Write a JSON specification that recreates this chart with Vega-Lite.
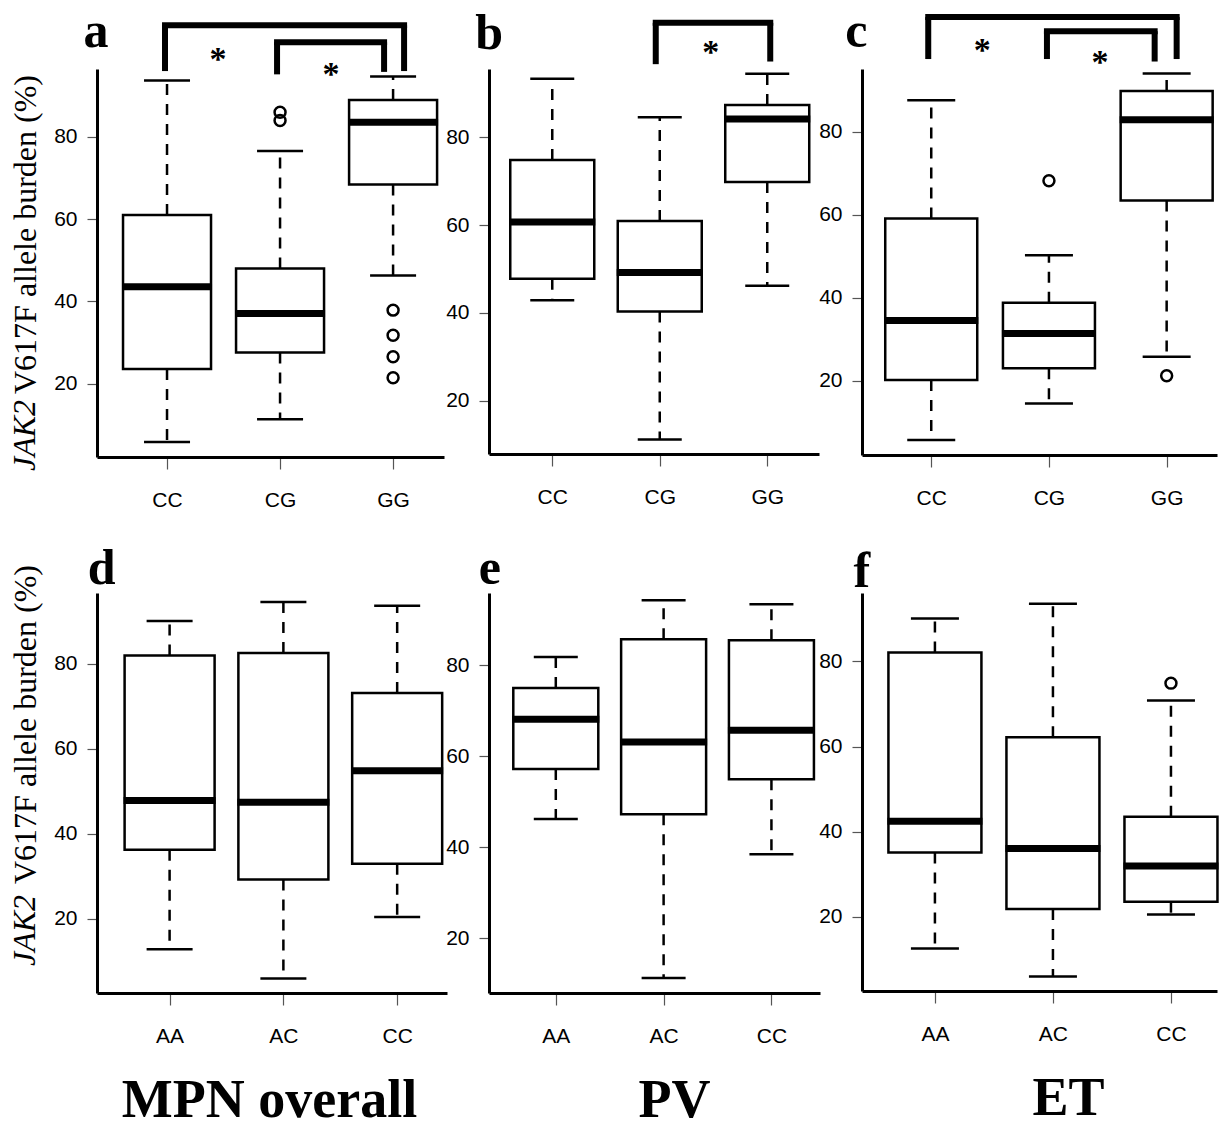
{
"$schema": "https://vega.github.io/schema/vega-lite/v6.json",
"background": "white",
"autosize": {"type": "pad"},
"padding": {"left": 8, "top": 6, "right": 0, "bottom": 0},
"datasets": {
"boxes": [
{"panel":"a","group":"CC","lo":5.9,"q1":23.6,"med":43.6,"q3":61.0,"hi":93.6},
{"panel":"a","group":"CG","lo":11.4,"q1":27.6,"med":37.1,"q3":48.0,"hi":76.5},
{"panel":"a","group":"GG","lo":46.3,"q1":68.4,"med":83.5,"q3":88.9,"hi":94.6},
{"panel":"b","group":"CC","lo":42.9,"q1":47.8,"med":60.7,"q3":74.8,"hi":93.3},
{"panel":"b","group":"CG","lo":11.2,"q1":40.3,"med":49.2,"q3":60.9,"hi":84.5},
{"panel":"b","group":"GG","lo":46.2,"q1":69.8,"med":84.1,"q3":87.3,"hi":94.4},
{"panel":"c","group":"CC","lo":5.7,"q1":20.2,"med":34.5,"q3":59.1,"hi":87.6},
{"panel":"c","group":"CG","lo":14.5,"q1":23.0,"med":31.4,"q3":38.8,"hi":50.2},
{"panel":"c","group":"GG","lo":25.8,"q1":63.4,"med":82.9,"q3":89.8,"hi":94.0},
{"panel":"d","group":"AA","lo":12.8,"q1":36.2,"med":47.8,"q3":81.9,"hi":90.0},
{"panel":"d","group":"AC","lo":5.9,"q1":29.2,"med":47.4,"q3":82.5,"hi":94.5},
{"panel":"d","group":"CC","lo":20.4,"q1":32.9,"med":54.8,"q3":73.1,"hi":93.6},
{"panel":"e","group":"AA","lo":46.2,"q1":57.2,"med":68.1,"q3":75.0,"hi":81.8},
{"panel":"e","group":"AC","lo":11.2,"q1":47.2,"med":63.1,"q3":85.7,"hi":94.3},
{"panel":"e","group":"CC","lo":38.4,"q1":54.9,"med":65.7,"q3":85.5,"hi":93.4},
{"panel":"f","group":"AA","lo":12.5,"q1":35.1,"med":42.4,"q3":82.1,"hi":90.1},
{"panel":"f","group":"AC","lo":5.9,"q1":21.8,"med":36.0,"q3":62.2,"hi":93.6},
{"panel":"f","group":"CC","lo":20.5,"q1":23.5,"med":31.9,"q3":43.5,"hi":70.8}
],
"outliers": [
{"panel":"a","group":"CG","value":85.9},
{"panel":"a","group":"CG","value":83.9},
{"panel":"a","group":"GG","value":37.9},
{"panel":"a","group":"GG","value":31.8},
{"panel":"a","group":"GG","value":26.6},
{"panel":"a","group":"GG","value":21.5},
{"panel":"c","group":"CG","value":68.2},
{"panel":"c","group":"GG","value":21.2},
{"panel":"f","group":"CC","value":74.9}
],
"brackets": [
{"panel":"a","id":"a1","from":"CC","to":"GG","top":107.0,"leg1":95.9,"leg2":95.9},
{"panel":"a","id":"a2","from":"CG","to":"GG","top":102.9,"leg1":95.1,"leg2":95.7},
{"panel":"b","id":"b1","from":"CG","to":"GG","top":106.0,"leg1":96.6,"leg2":97.2},
{"panel":"c","id":"c1","from":"CC","to":"GG","top":107.6,"leg1":97.5,"leg2":97.5},
{"panel":"c","id":"c2","from":"CG","to":"GG","top":104.2,"leg1":97.5,"leg2":96.9}
],
"stars": [
{"panel":"a","near":"CC","label":"*","level":100.0},
{"panel":"a","near":"CG","label":"*","level":96.5},
{"panel":"b","near":"CG","label":"*","level":100.4},
{"panel":"c","near":"CC","label":"*","level":100.9},
{"panel":"c","near":"CG","label":"*","level":98.1}
],
"letters": [
{"panel":"a","near":"CC","label":"a","level":101.8},
{"panel":"b","near":"CC","label":"b","level":100.0},
{"panel":"c","near":"CC","label":"c","level":100.3},
{"panel":"d","near":"AA","label":"d","level":98.6},
{"panel":"e","near":"AA","label":"e","level":97.9},
{"panel":"f","near":"AA","label":"f","level":97.6}
],
"gene": [
{"panel":"a","near":"CC","label":"JAK2","level":7.5},
{"panel":"d","near":"AA","label":"JAK2","level":17.2}
]
},
"columns": 3,
"spacing": {"row": 136, "column": 42},
"bounds": "flush",
"align": "each",
"concat": [
{"width": 347, "height": 388,
"layer": [
{"data":{"name":"boxes"},"transform":[{"filter":"datum.panel === 'a'"}],"mark":{"type":"rule","strokeDash":[11,9],"strokeWidth":2.5,"color":"black"},
"encoding":{"x":{"field":"group","type":"nominal","scale":{"type":"point","domain":["CC","CG","GG"],"padding":0.535,"align":0.579},"axis":{"title":null}},
"y":{"field":"q3","type":"quantitative","scale":{"domain":[2.27,96.4],"nice":false,"zero":false},"axis":{"values":[20,40,60,80],"title":"V617F allele burden (%)","titleFont":"Liberation Serif","titleX":-62,"titleY":165,"titleAngle":270,"titleAlign":"center","titleBaseline":"alphabetic","titleFontSize":32,"titleFontWeight":"normal"}},"y2":{"field":"hi"}}},
{"data":{"name":"boxes"},"transform":[{"filter":"datum.panel === 'a'"}],"mark":{"type":"rule","strokeDash":[11,9],"strokeWidth":2.5,"color":"black"},
"encoding":{"x":{"field":"group","type":"nominal","scale":{"type":"point","domain":["CC","CG","GG"],"padding":0.535,"align":0.579}},
"y":{"field":"q1","type":"quantitative","scale":{"domain":[2.27,96.4],"nice":false,"zero":false}},"y2":{"field":"lo"}}},
{"data":{"name":"boxes"},"transform":[{"filter":"datum.panel === 'a'"}],"mark":{"type":"bar","width":88,"fill":"white","stroke":"black","strokeWidth":2.5},
"encoding":{"x":{"field":"group","type":"nominal","scale":{"type":"point","domain":["CC","CG","GG"],"padding":0.535,"align":0.579}},
"y":{"field":"q1","type":"quantitative","scale":{"domain":[2.27,96.4],"nice":false,"zero":false}},"y2":{"field":"q3"}}},
{"data":{"name":"boxes"},"transform":[{"filter":"datum.panel === 'a'"}],"mark":{"type":"tick","orient":"horizontal","size":90,"thickness":7,"color":"black","opacity":1},
"encoding":{"x":{"field":"group","type":"nominal","scale":{"type":"point","domain":["CC","CG","GG"],"padding":0.535,"align":0.579}},
"y":{"field":"med","type":"quantitative","scale":{"domain":[2.27,96.4],"nice":false,"zero":false}}}},
{"data":{"name":"boxes"},"transform":[{"filter":"datum.panel === 'a'"}],"mark":{"type":"tick","orient":"horizontal","size":46,"thickness":2.5,"color":"black","opacity":1},
"encoding":{"x":{"field":"group","type":"nominal","scale":{"type":"point","domain":["CC","CG","GG"],"padding":0.535,"align":0.579}},
"y":{"field":"hi","type":"quantitative","scale":{"domain":[2.27,96.4],"nice":false,"zero":false}}}},
{"data":{"name":"boxes"},"transform":[{"filter":"datum.panel === 'a'"}],"mark":{"type":"tick","orient":"horizontal","size":46,"thickness":2.5,"color":"black","opacity":1},
"encoding":{"x":{"field":"group","type":"nominal","scale":{"type":"point","domain":["CC","CG","GG"],"padding":0.535,"align":0.579}},
"y":{"field":"lo","type":"quantitative","scale":{"domain":[2.27,96.4],"nice":false,"zero":false}}}},
{"data":{"name":"outliers"},"transform":[{"filter":"datum.panel === 'a'"}],"mark":{"type":"point","shape":"circle","filled":false,"size":120,"strokeWidth":2.5,"color":"black","opacity":1},
"encoding":{"x":{"field":"group","type":"nominal","scale":{"type":"point","domain":["CC","CG","GG"],"padding":0.535,"align":0.579}},
"y":{"field":"value","type":"quantitative","scale":{"domain":[2.27,96.4],"nice":false,"zero":false}}}},
{"data":{"name":"brackets"},"transform":[{"filter":"datum.id === 'a1'"}],"mark":{"type":"rule","strokeWidth":6,"strokeCap":"square","color":"black","xOffset":-2,"x2Offset":11},
"encoding":{"x":{"field":"from","type":"nominal","scale":{"type":"point","domain":["CC","CG","GG"],"padding":0.535,"align":0.579}},"x2":{"field":"to"},
"y":{"field":"top","type":"quantitative","scale":{"domain":[2.27,96.4],"nice":false,"zero":false}}}},
{"data":{"name":"brackets"},"transform":[{"filter":"datum.id === 'a1'"}],"mark":{"type":"rule","strokeWidth":6,"color":"black","xOffset":-2},
"encoding":{"x":{"field":"from","type":"nominal","scale":{"type":"point","domain":["CC","CG","GG"],"padding":0.535,"align":0.579}},
"y":{"field":"top","type":"quantitative","scale":{"domain":[2.27,96.4],"nice":false,"zero":false}},"y2":{"field":"leg1"}}},
{"data":{"name":"brackets"},"transform":[{"filter":"datum.id === 'a1'"}],"mark":{"type":"rule","strokeWidth":6,"color":"black","xOffset":11},
"encoding":{"x":{"field":"to","type":"nominal","scale":{"type":"point","domain":["CC","CG","GG"],"padding":0.535,"align":0.579}},
"y":{"field":"top","type":"quantitative","scale":{"domain":[2.27,96.4],"nice":false,"zero":false}},"y2":{"field":"leg2"}}},
{"data":{"name":"brackets"},"transform":[{"filter":"datum.id === 'a2'"}],"mark":{"type":"rule","strokeWidth":6,"strokeCap":"square","color":"black","xOffset":-3,"x2Offset":-9},
"encoding":{"x":{"field":"from","type":"nominal","scale":{"type":"point","domain":["CC","CG","GG"],"padding":0.535,"align":0.579}},"x2":{"field":"to"},
"y":{"field":"top","type":"quantitative","scale":{"domain":[2.27,96.4],"nice":false,"zero":false}}}},
{"data":{"name":"brackets"},"transform":[{"filter":"datum.id === 'a2'"}],"mark":{"type":"rule","strokeWidth":6,"color":"black","xOffset":-3},
"encoding":{"x":{"field":"from","type":"nominal","scale":{"type":"point","domain":["CC","CG","GG"],"padding":0.535,"align":0.579}},
"y":{"field":"top","type":"quantitative","scale":{"domain":[2.27,96.4],"nice":false,"zero":false}},"y2":{"field":"leg1"}}},
{"data":{"name":"brackets"},"transform":[{"filter":"datum.id === 'a2'"}],"mark":{"type":"rule","strokeWidth":6,"color":"black","xOffset":-9},
"encoding":{"x":{"field":"to","type":"nominal","scale":{"type":"point","domain":["CC","CG","GG"],"padding":0.535,"align":0.579}},
"y":{"field":"top","type":"quantitative","scale":{"domain":[2.27,96.4],"nice":false,"zero":false}},"y2":{"field":"leg2"}}},
{"data":{"name":"stars"},"transform":[{"filter":"datum.panel === 'a'"}],"mark":{"type":"text","font":"Liberation Serif","fontWeight":"bold","fontSize":34,"dx":51,"dy":6,"baseline":"middle","align":"center","color":"black"},
"encoding":{"x":{"field":"near","type":"nominal","scale":{"type":"point","domain":["CC","CG","GG"],"padding":0.535,"align":0.579}},
"y":{"field":"level","type":"quantitative","scale":{"domain":[2.27,96.4],"nice":false,"zero":false}},"text":{"field":"label"}}},
{"data":{"name":"letters"},"transform":[{"filter":"datum.panel === 'a'"}],"mark":{"type":"text","font":"Liberation Serif","fontWeight":"bold","fontSize":50,"dx":-71,"baseline":"alphabetic","align":"center","color":"black"},
"encoding":{"x":{"field":"near","type":"nominal","scale":{"type":"point","domain":["CC","CG","GG"],"padding":0.535,"align":0.579}},
"y":{"field":"level","type":"quantitative","scale":{"domain":[2.27,96.4],"nice":false,"zero":false}},"text":{"field":"label"}}},
{"data":{"name":"gene"},"transform":[{"filter":"datum.panel === 'a'"}],"mark":{"type":"text","font":"Liberation Serif","fontStyle":"italic","fontSize":32,"angle":270,"dy":-132,"baseline":"alphabetic","align":"center","color":"black"},
"encoding":{"x":{"field":"near","type":"nominal","scale":{"type":"point","domain":["CC","CG","GG"],"padding":0.535,"align":0.579}},
"y":{"field":"level","type":"quantitative","scale":{"domain":[2.27,96.4],"nice":false,"zero":false}},"text":{"field":"label"}}}
]},
{"width": 330, "height": 385,
"layer": [
{"data":{"name":"boxes"},"transform":[{"filter":"datum.panel === 'b'"}],"mark":{"type":"rule","strokeDash":[11,9],"strokeWidth":2.5,"color":"black"},
"encoding":{"x":{"field":"group","type":"nominal","scale":{"type":"point","domain":["CC","CG","GG"],"padding":0.535,"align":0.55},"axis":{"title":null}},
"y":{"field":"q3","type":"quantitative","scale":{"domain":[7.9,95.5],"nice":false,"zero":false},"axis":{"values":[20,40,60,80],"title":null}},"y2":{"field":"hi"}}},
{"data":{"name":"boxes"},"transform":[{"filter":"datum.panel === 'b'"}],"mark":{"type":"rule","strokeDash":[11,9],"strokeWidth":2.5,"color":"black"},
"encoding":{"x":{"field":"group","type":"nominal","scale":{"type":"point","domain":["CC","CG","GG"],"padding":0.535,"align":0.55}},
"y":{"field":"q1","type":"quantitative","scale":{"domain":[7.9,95.5],"nice":false,"zero":false}},"y2":{"field":"lo"}}},
{"data":{"name":"boxes"},"transform":[{"filter":"datum.panel === 'b'"}],"mark":{"type":"bar","width":84,"fill":"white","stroke":"black","strokeWidth":2.5},
"encoding":{"x":{"field":"group","type":"nominal","scale":{"type":"point","domain":["CC","CG","GG"],"padding":0.535,"align":0.55}},
"y":{"field":"q1","type":"quantitative","scale":{"domain":[7.9,95.5],"nice":false,"zero":false}},"y2":{"field":"q3"}}},
{"data":{"name":"boxes"},"transform":[{"filter":"datum.panel === 'b'"}],"mark":{"type":"tick","orient":"horizontal","size":86,"thickness":7,"color":"black","opacity":1},
"encoding":{"x":{"field":"group","type":"nominal","scale":{"type":"point","domain":["CC","CG","GG"],"padding":0.535,"align":0.55}},
"y":{"field":"med","type":"quantitative","scale":{"domain":[7.9,95.5],"nice":false,"zero":false}}}},
{"data":{"name":"boxes"},"transform":[{"filter":"datum.panel === 'b'"}],"mark":{"type":"tick","orient":"horizontal","size":44,"thickness":2.5,"color":"black","opacity":1},
"encoding":{"x":{"field":"group","type":"nominal","scale":{"type":"point","domain":["CC","CG","GG"],"padding":0.535,"align":0.55}},
"y":{"field":"hi","type":"quantitative","scale":{"domain":[7.9,95.5],"nice":false,"zero":false}}}},
{"data":{"name":"boxes"},"transform":[{"filter":"datum.panel === 'b'"}],"mark":{"type":"tick","orient":"horizontal","size":44,"thickness":2.5,"color":"black","opacity":1},
"encoding":{"x":{"field":"group","type":"nominal","scale":{"type":"point","domain":["CC","CG","GG"],"padding":0.535,"align":0.55}},
"y":{"field":"lo","type":"quantitative","scale":{"domain":[7.9,95.5],"nice":false,"zero":false}}}},
{"data":{"name":"brackets"},"transform":[{"filter":"datum.id === 'b1'"}],"mark":{"type":"rule","strokeWidth":6,"strokeCap":"square","color":"black","xOffset":-4,"x2Offset":3},
"encoding":{"x":{"field":"from","type":"nominal","scale":{"type":"point","domain":["CC","CG","GG"],"padding":0.535,"align":0.55}},"x2":{"field":"to"},
"y":{"field":"top","type":"quantitative","scale":{"domain":[7.9,95.5],"nice":false,"zero":false}}}},
{"data":{"name":"brackets"},"transform":[{"filter":"datum.id === 'b1'"}],"mark":{"type":"rule","strokeWidth":6,"color":"black","xOffset":-4},
"encoding":{"x":{"field":"from","type":"nominal","scale":{"type":"point","domain":["CC","CG","GG"],"padding":0.535,"align":0.55}},
"y":{"field":"top","type":"quantitative","scale":{"domain":[7.9,95.5],"nice":false,"zero":false}},"y2":{"field":"leg1"}}},
{"data":{"name":"brackets"},"transform":[{"filter":"datum.id === 'b1'"}],"mark":{"type":"rule","strokeWidth":6,"color":"black","xOffset":3},
"encoding":{"x":{"field":"to","type":"nominal","scale":{"type":"point","domain":["CC","CG","GG"],"padding":0.535,"align":0.55}},
"y":{"field":"top","type":"quantitative","scale":{"domain":[7.9,95.5],"nice":false,"zero":false}},"y2":{"field":"leg2"}}},
{"data":{"name":"stars"},"transform":[{"filter":"datum.panel === 'b'"}],"mark":{"type":"text","font":"Liberation Serif","fontWeight":"bold","fontSize":34,"dx":51,"dy":6,"baseline":"middle","align":"center","color":"black"},
"encoding":{"x":{"field":"near","type":"nominal","scale":{"type":"point","domain":["CC","CG","GG"],"padding":0.535,"align":0.55}},
"y":{"field":"level","type":"quantitative","scale":{"domain":[7.9,95.5],"nice":false,"zero":false}},"text":{"field":"label"}}},
{"data":{"name":"letters"},"transform":[{"filter":"datum.panel === 'b'"}],"mark":{"type":"text","font":"Liberation Serif","fontWeight":"bold","fontSize":50,"dx":-63,"baseline":"alphabetic","align":"center","color":"black"},
"encoding":{"x":{"field":"near","type":"nominal","scale":{"type":"point","domain":["CC","CG","GG"],"padding":0.535,"align":0.55}},
"y":{"field":"level","type":"quantitative","scale":{"domain":[7.9,95.5],"nice":false,"zero":false}},"text":{"field":"label"}}}
]},
{"width": 355, "height": 386,
"layer": [
{"data":{"name":"boxes"},"transform":[{"filter":"datum.panel === 'c'"}],"mark":{"type":"rule","strokeDash":[11,9],"strokeWidth":2.5,"color":"black"},
"encoding":{"x":{"field":"group","type":"nominal","scale":{"type":"point","domain":["CC","CG","GG"],"padding":0.508,"align":0.579},"axis":{"title":null}},
"y":{"field":"q3","type":"quantitative","scale":{"domain":[2.1,95.1],"nice":false,"zero":false},"axis":{"values":[20,40,60,80],"title":null}},"y2":{"field":"hi"}}},
{"data":{"name":"boxes"},"transform":[{"filter":"datum.panel === 'c'"}],"mark":{"type":"rule","strokeDash":[11,9],"strokeWidth":2.5,"color":"black"},
"encoding":{"x":{"field":"group","type":"nominal","scale":{"type":"point","domain":["CC","CG","GG"],"padding":0.508,"align":0.579}},
"y":{"field":"q1","type":"quantitative","scale":{"domain":[2.1,95.1],"nice":false,"zero":false}},"y2":{"field":"lo"}}},
{"data":{"name":"boxes"},"transform":[{"filter":"datum.panel === 'c'"}],"mark":{"type":"bar","width":92,"fill":"white","stroke":"black","strokeWidth":2.5},
"encoding":{"x":{"field":"group","type":"nominal","scale":{"type":"point","domain":["CC","CG","GG"],"padding":0.508,"align":0.579}},
"y":{"field":"q1","type":"quantitative","scale":{"domain":[2.1,95.1],"nice":false,"zero":false}},"y2":{"field":"q3"}}},
{"data":{"name":"boxes"},"transform":[{"filter":"datum.panel === 'c'"}],"mark":{"type":"tick","orient":"horizontal","size":94,"thickness":7,"color":"black","opacity":1},
"encoding":{"x":{"field":"group","type":"nominal","scale":{"type":"point","domain":["CC","CG","GG"],"padding":0.508,"align":0.579}},
"y":{"field":"med","type":"quantitative","scale":{"domain":[2.1,95.1],"nice":false,"zero":false}}}},
{"data":{"name":"boxes"},"transform":[{"filter":"datum.panel === 'c'"}],"mark":{"type":"tick","orient":"horizontal","size":48,"thickness":2.5,"color":"black","opacity":1},
"encoding":{"x":{"field":"group","type":"nominal","scale":{"type":"point","domain":["CC","CG","GG"],"padding":0.508,"align":0.579}},
"y":{"field":"hi","type":"quantitative","scale":{"domain":[2.1,95.1],"nice":false,"zero":false}}}},
{"data":{"name":"boxes"},"transform":[{"filter":"datum.panel === 'c'"}],"mark":{"type":"tick","orient":"horizontal","size":48,"thickness":2.5,"color":"black","opacity":1},
"encoding":{"x":{"field":"group","type":"nominal","scale":{"type":"point","domain":["CC","CG","GG"],"padding":0.508,"align":0.579}},
"y":{"field":"lo","type":"quantitative","scale":{"domain":[2.1,95.1],"nice":false,"zero":false}}}},
{"data":{"name":"outliers"},"transform":[{"filter":"datum.panel === 'c'"}],"mark":{"type":"point","shape":"circle","filled":false,"size":120,"strokeWidth":2.5,"color":"black","opacity":1},
"encoding":{"x":{"field":"group","type":"nominal","scale":{"type":"point","domain":["CC","CG","GG"],"padding":0.508,"align":0.579}},
"y":{"field":"value","type":"quantitative","scale":{"domain":[2.1,95.1],"nice":false,"zero":false}}}},
{"data":{"name":"brackets"},"transform":[{"filter":"datum.id === 'c1'"}],"mark":{"type":"rule","strokeWidth":6,"strokeCap":"square","color":"black","xOffset":-3,"x2Offset":10},
"encoding":{"x":{"field":"from","type":"nominal","scale":{"type":"point","domain":["CC","CG","GG"],"padding":0.508,"align":0.579}},"x2":{"field":"to"},
"y":{"field":"top","type":"quantitative","scale":{"domain":[2.1,95.1],"nice":false,"zero":false}}}},
{"data":{"name":"brackets"},"transform":[{"filter":"datum.id === 'c1'"}],"mark":{"type":"rule","strokeWidth":6,"color":"black","xOffset":-3},
"encoding":{"x":{"field":"from","type":"nominal","scale":{"type":"point","domain":["CC","CG","GG"],"padding":0.508,"align":0.579}},
"y":{"field":"top","type":"quantitative","scale":{"domain":[2.1,95.1],"nice":false,"zero":false}},"y2":{"field":"leg1"}}},
{"data":{"name":"brackets"},"transform":[{"filter":"datum.id === 'c1'"}],"mark":{"type":"rule","strokeWidth":6,"color":"black","xOffset":10},
"encoding":{"x":{"field":"to","type":"nominal","scale":{"type":"point","domain":["CC","CG","GG"],"padding":0.508,"align":0.579}},
"y":{"field":"top","type":"quantitative","scale":{"domain":[2.1,95.1],"nice":false,"zero":false}},"y2":{"field":"leg2"}}},
{"data":{"name":"brackets"},"transform":[{"filter":"datum.id === 'c2'"}],"mark":{"type":"rule","strokeWidth":6,"strokeCap":"square","color":"black","xOffset":-2,"x2Offset":-12},
"encoding":{"x":{"field":"from","type":"nominal","scale":{"type":"point","domain":["CC","CG","GG"],"padding":0.508,"align":0.579}},"x2":{"field":"to"},
"y":{"field":"top","type":"quantitative","scale":{"domain":[2.1,95.1],"nice":false,"zero":false}}}},
{"data":{"name":"brackets"},"transform":[{"filter":"datum.id === 'c2'"}],"mark":{"type":"rule","strokeWidth":6,"color":"black","xOffset":-2},
"encoding":{"x":{"field":"from","type":"nominal","scale":{"type":"point","domain":["CC","CG","GG"],"padding":0.508,"align":0.579}},
"y":{"field":"top","type":"quantitative","scale":{"domain":[2.1,95.1],"nice":false,"zero":false}},"y2":{"field":"leg1"}}},
{"data":{"name":"brackets"},"transform":[{"filter":"datum.id === 'c2'"}],"mark":{"type":"rule","strokeWidth":6,"color":"black","xOffset":-12},
"encoding":{"x":{"field":"to","type":"nominal","scale":{"type":"point","domain":["CC","CG","GG"],"padding":0.508,"align":0.579}},
"y":{"field":"top","type":"quantitative","scale":{"domain":[2.1,95.1],"nice":false,"zero":false}},"y2":{"field":"leg2"}}},
{"data":{"name":"stars"},"transform":[{"filter":"datum.panel === 'c'"}],"mark":{"type":"text","font":"Liberation Serif","fontWeight":"bold","fontSize":34,"dx":51,"dy":6,"baseline":"middle","align":"center","color":"black"},
"encoding":{"x":{"field":"near","type":"nominal","scale":{"type":"point","domain":["CC","CG","GG"],"padding":0.508,"align":0.579}},
"y":{"field":"level","type":"quantitative","scale":{"domain":[2.1,95.1],"nice":false,"zero":false}},"text":{"field":"label"}}},
{"data":{"name":"letters"},"transform":[{"filter":"datum.panel === 'c'"}],"mark":{"type":"text","font":"Liberation Serif","fontWeight":"bold","fontSize":50,"dx":-75,"baseline":"alphabetic","align":"center","color":"black"},
"encoding":{"x":{"field":"near","type":"nominal","scale":{"type":"point","domain":["CC","CG","GG"],"padding":0.508,"align":0.579}},
"y":{"field":"level","type":"quantitative","scale":{"domain":[2.1,95.1],"nice":false,"zero":false}},"text":{"field":"label"}}}
]},
{"width": 350, "height": 400,
"layer": [
{"data":{"name":"boxes"},"transform":[{"filter":"datum.panel === 'd'"}],"mark":{"type":"rule","strokeDash":[11,9],"strokeWidth":2.5,"color":"black"},
"encoding":{"x":{"field":"group","type":"nominal","scale":{"type":"point","domain":["AA","AC","CC"],"padding":0.538,"align":0.593},"axis":{"title":"MPN overall","titleX":172,"titleY":123,"titleAlign":"center","titleBaseline":"alphabetic","titleAngle":0,"titleFontSize":54,"titleFontWeight":"bold"}},
"y":{"field":"q3","type":"quantitative","scale":{"domain":[2.5,96.6],"nice":false,"zero":false},"axis":{"values":[20,40,60,80],"title":"V617F allele burden (%)","titleFont":"Liberation Serif","titleX":-62,"titleY":131,"titleAngle":270,"titleAlign":"center","titleBaseline":"alphabetic","titleFontSize":32,"titleFontWeight":"normal"}},"y2":{"field":"hi"}}},
{"data":{"name":"boxes"},"transform":[{"filter":"datum.panel === 'd'"}],"mark":{"type":"rule","strokeDash":[11,9],"strokeWidth":2.5,"color":"black"},
"encoding":{"x":{"field":"group","type":"nominal","scale":{"type":"point","domain":["AA","AC","CC"],"padding":0.538,"align":0.593}},
"y":{"field":"q1","type":"quantitative","scale":{"domain":[2.5,96.6],"nice":false,"zero":false}},"y2":{"field":"lo"}}},
{"data":{"name":"boxes"},"transform":[{"filter":"datum.panel === 'd'"}],"mark":{"type":"bar","width":90,"fill":"white","stroke":"black","strokeWidth":2.5},
"encoding":{"x":{"field":"group","type":"nominal","scale":{"type":"point","domain":["AA","AC","CC"],"padding":0.538,"align":0.593}},
"y":{"field":"q1","type":"quantitative","scale":{"domain":[2.5,96.6],"nice":false,"zero":false}},"y2":{"field":"q3"}}},
{"data":{"name":"boxes"},"transform":[{"filter":"datum.panel === 'd'"}],"mark":{"type":"tick","orient":"horizontal","size":92,"thickness":7,"color":"black","opacity":1},
"encoding":{"x":{"field":"group","type":"nominal","scale":{"type":"point","domain":["AA","AC","CC"],"padding":0.538,"align":0.593}},
"y":{"field":"med","type":"quantitative","scale":{"domain":[2.5,96.6],"nice":false,"zero":false}}}},
{"data":{"name":"boxes"},"transform":[{"filter":"datum.panel === 'd'"}],"mark":{"type":"tick","orient":"horizontal","size":46,"thickness":2.5,"color":"black","opacity":1},
"encoding":{"x":{"field":"group","type":"nominal","scale":{"type":"point","domain":["AA","AC","CC"],"padding":0.538,"align":0.593}},
"y":{"field":"hi","type":"quantitative","scale":{"domain":[2.5,96.6],"nice":false,"zero":false}}}},
{"data":{"name":"boxes"},"transform":[{"filter":"datum.panel === 'd'"}],"mark":{"type":"tick","orient":"horizontal","size":46,"thickness":2.5,"color":"black","opacity":1},
"encoding":{"x":{"field":"group","type":"nominal","scale":{"type":"point","domain":["AA","AC","CC"],"padding":0.538,"align":0.593}},
"y":{"field":"lo","type":"quantitative","scale":{"domain":[2.5,96.6],"nice":false,"zero":false}}}},
{"data":{"name":"letters"},"transform":[{"filter":"datum.panel === 'd'"}],"mark":{"type":"text","font":"Liberation Serif","fontWeight":"bold","fontSize":50,"dx":-68,"baseline":"alphabetic","align":"center","color":"black"},
"encoding":{"x":{"field":"near","type":"nominal","scale":{"type":"point","domain":["AA","AC","CC"],"padding":0.538,"align":0.593}},
"y":{"field":"level","type":"quantitative","scale":{"domain":[2.5,96.6],"nice":false,"zero":false}},"text":{"field":"label"}}},
{"data":{"name":"gene"},"transform":[{"filter":"datum.panel === 'd'"}],"mark":{"type":"text","font":"Liberation Serif","fontStyle":"italic","fontSize":32,"angle":270,"dy":-134.6,"baseline":"alphabetic","align":"center","color":"black"},
"encoding":{"x":{"field":"near","type":"nominal","scale":{"type":"point","domain":["AA","AC","CC"],"padding":0.538,"align":0.593}},
"y":{"field":"level","type":"quantitative","scale":{"domain":[2.5,96.6],"nice":false,"zero":false}},"text":{"field":"label"}}}
]},
{"width": 331, "height": 400,
"layer": [
{"data":{"name":"boxes"},"transform":[{"filter":"datum.panel === 'e'"}],"mark":{"type":"rule","strokeDash":[11,9],"strokeWidth":2.5,"color":"black"},
"encoding":{"x":{"field":"group","type":"nominal","scale":{"type":"point","domain":["AA","AC","CC"],"padding":0.535,"align":0.579},"axis":{"title":"PV","titleX":185,"titleY":123,"titleAlign":"center","titleBaseline":"alphabetic","titleAngle":0,"titleFontSize":54,"titleFontWeight":"bold"}},
"y":{"field":"q3","type":"quantitative","scale":{"domain":[7.9,95.9],"nice":false,"zero":false},"axis":{"values":[20,40,60,80],"title":null}},"y2":{"field":"hi"}}},
{"data":{"name":"boxes"},"transform":[{"filter":"datum.panel === 'e'"}],"mark":{"type":"rule","strokeDash":[11,9],"strokeWidth":2.5,"color":"black"},
"encoding":{"x":{"field":"group","type":"nominal","scale":{"type":"point","domain":["AA","AC","CC"],"padding":0.535,"align":0.579}},
"y":{"field":"q1","type":"quantitative","scale":{"domain":[7.9,95.9],"nice":false,"zero":false}},"y2":{"field":"lo"}}},
{"data":{"name":"boxes"},"transform":[{"filter":"datum.panel === 'e'"}],"mark":{"type":"bar","width":85,"fill":"white","stroke":"black","strokeWidth":2.5},
"encoding":{"x":{"field":"group","type":"nominal","scale":{"type":"point","domain":["AA","AC","CC"],"padding":0.535,"align":0.579}},
"y":{"field":"q1","type":"quantitative","scale":{"domain":[7.9,95.9],"nice":false,"zero":false}},"y2":{"field":"q3"}}},
{"data":{"name":"boxes"},"transform":[{"filter":"datum.panel === 'e'"}],"mark":{"type":"tick","orient":"horizontal","size":87,"thickness":7,"color":"black","opacity":1},
"encoding":{"x":{"field":"group","type":"nominal","scale":{"type":"point","domain":["AA","AC","CC"],"padding":0.535,"align":0.579}},
"y":{"field":"med","type":"quantitative","scale":{"domain":[7.9,95.9],"nice":false,"zero":false}}}},
{"data":{"name":"boxes"},"transform":[{"filter":"datum.panel === 'e'"}],"mark":{"type":"tick","orient":"horizontal","size":44,"thickness":2.5,"color":"black","opacity":1},
"encoding":{"x":{"field":"group","type":"nominal","scale":{"type":"point","domain":["AA","AC","CC"],"padding":0.535,"align":0.579}},
"y":{"field":"hi","type":"quantitative","scale":{"domain":[7.9,95.9],"nice":false,"zero":false}}}},
{"data":{"name":"boxes"},"transform":[{"filter":"datum.panel === 'e'"}],"mark":{"type":"tick","orient":"horizontal","size":44,"thickness":2.5,"color":"black","opacity":1},
"encoding":{"x":{"field":"group","type":"nominal","scale":{"type":"point","domain":["AA","AC","CC"],"padding":0.535,"align":0.579}},
"y":{"field":"lo","type":"quantitative","scale":{"domain":[7.9,95.9],"nice":false,"zero":false}}}},
{"data":{"name":"letters"},"transform":[{"filter":"datum.panel === 'e'"}],"mark":{"type":"text","font":"Liberation Serif","fontWeight":"bold","fontSize":50,"dx":-66,"baseline":"alphabetic","align":"center","color":"black"},
"encoding":{"x":{"field":"near","type":"nominal","scale":{"type":"point","domain":["AA","AC","CC"],"padding":0.535,"align":0.579}},
"y":{"field":"level","type":"quantitative","scale":{"domain":[7.9,95.9],"nice":false,"zero":false}},"text":{"field":"label"}}}
]},
{"width": 355, "height": 398,
"layer": [
{"data":{"name":"boxes"},"transform":[{"filter":"datum.panel === 'f'"}],"mark":{"type":"rule","strokeDash":[11,9],"strokeWidth":2.5,"color":"black"},
"encoding":{"x":{"field":"group","type":"nominal","scale":{"type":"point","domain":["AA","AC","CC"],"padding":0.504,"align":0.613},"axis":{"title":"ET","titleX":206,"titleY":123,"titleAlign":"center","titleBaseline":"alphabetic","titleAngle":0,"titleFontSize":54,"titleFontWeight":"bold"}},
"y":{"field":"q3","type":"quantitative","scale":{"domain":[2.5,96.1],"nice":false,"zero":false},"axis":{"values":[20,40,60,80],"title":null}},"y2":{"field":"hi"}}},
{"data":{"name":"boxes"},"transform":[{"filter":"datum.panel === 'f'"}],"mark":{"type":"rule","strokeDash":[11,9],"strokeWidth":2.5,"color":"black"},
"encoding":{"x":{"field":"group","type":"nominal","scale":{"type":"point","domain":["AA","AC","CC"],"padding":0.504,"align":0.613}},
"y":{"field":"q1","type":"quantitative","scale":{"domain":[2.5,96.1],"nice":false,"zero":false}},"y2":{"field":"lo"}}},
{"data":{"name":"boxes"},"transform":[{"filter":"datum.panel === 'f'"}],"mark":{"type":"bar","width":93,"fill":"white","stroke":"black","strokeWidth":2.5},
"encoding":{"x":{"field":"group","type":"nominal","scale":{"type":"point","domain":["AA","AC","CC"],"padding":0.504,"align":0.613}},
"y":{"field":"q1","type":"quantitative","scale":{"domain":[2.5,96.1],"nice":false,"zero":false}},"y2":{"field":"q3"}}},
{"data":{"name":"boxes"},"transform":[{"filter":"datum.panel === 'f'"}],"mark":{"type":"tick","orient":"horizontal","size":95,"thickness":7,"color":"black","opacity":1},
"encoding":{"x":{"field":"group","type":"nominal","scale":{"type":"point","domain":["AA","AC","CC"],"padding":0.504,"align":0.613}},
"y":{"field":"med","type":"quantitative","scale":{"domain":[2.5,96.1],"nice":false,"zero":false}}}},
{"data":{"name":"boxes"},"transform":[{"filter":"datum.panel === 'f'"}],"mark":{"type":"tick","orient":"horizontal","size":48,"thickness":2.5,"color":"black","opacity":1},
"encoding":{"x":{"field":"group","type":"nominal","scale":{"type":"point","domain":["AA","AC","CC"],"padding":0.504,"align":0.613}},
"y":{"field":"hi","type":"quantitative","scale":{"domain":[2.5,96.1],"nice":false,"zero":false}}}},
{"data":{"name":"boxes"},"transform":[{"filter":"datum.panel === 'f'"}],"mark":{"type":"tick","orient":"horizontal","size":48,"thickness":2.5,"color":"black","opacity":1},
"encoding":{"x":{"field":"group","type":"nominal","scale":{"type":"point","domain":["AA","AC","CC"],"padding":0.504,"align":0.613}},
"y":{"field":"lo","type":"quantitative","scale":{"domain":[2.5,96.1],"nice":false,"zero":false}}}},
{"data":{"name":"outliers"},"transform":[{"filter":"datum.panel === 'f'"}],"mark":{"type":"point","shape":"circle","filled":false,"size":120,"strokeWidth":2.5,"color":"black","opacity":1},
"encoding":{"x":{"field":"group","type":"nominal","scale":{"type":"point","domain":["AA","AC","CC"],"padding":0.504,"align":0.613}},
"y":{"field":"value","type":"quantitative","scale":{"domain":[2.5,96.1],"nice":false,"zero":false}}}},
{"data":{"name":"letters"},"transform":[{"filter":"datum.panel === 'f'"}],"mark":{"type":"text","font":"Liberation Serif","fontWeight":"bold","fontSize":50,"dx":-73,"baseline":"alphabetic","align":"center","color":"black"},
"encoding":{"x":{"field":"near","type":"nominal","scale":{"type":"point","domain":["AA","AC","CC"],"padding":0.504,"align":0.613}},
"y":{"field":"level","type":"quantitative","scale":{"domain":[2.5,96.1],"nice":false,"zero":false}},"text":{"field":"label"}}}
]}
],
"config": {
"view": {"stroke": null},
"axis": {"grid": false, "domainColor": "black", "domainWidth": 3, "tickColor": "#555555", "tickWidth": 1.2, "labelColor": "black", "labelFont": "Liberation Sans", "labelFontSize": 21, "titleColor": "black", "titleFont": "Liberation Serif"},
"axisX": {"tickSize": 12, "labelPadding": 20, "labelAngle": 0},
"axisY": {"tickSize": 10, "labelPadding": 10}
}
}
